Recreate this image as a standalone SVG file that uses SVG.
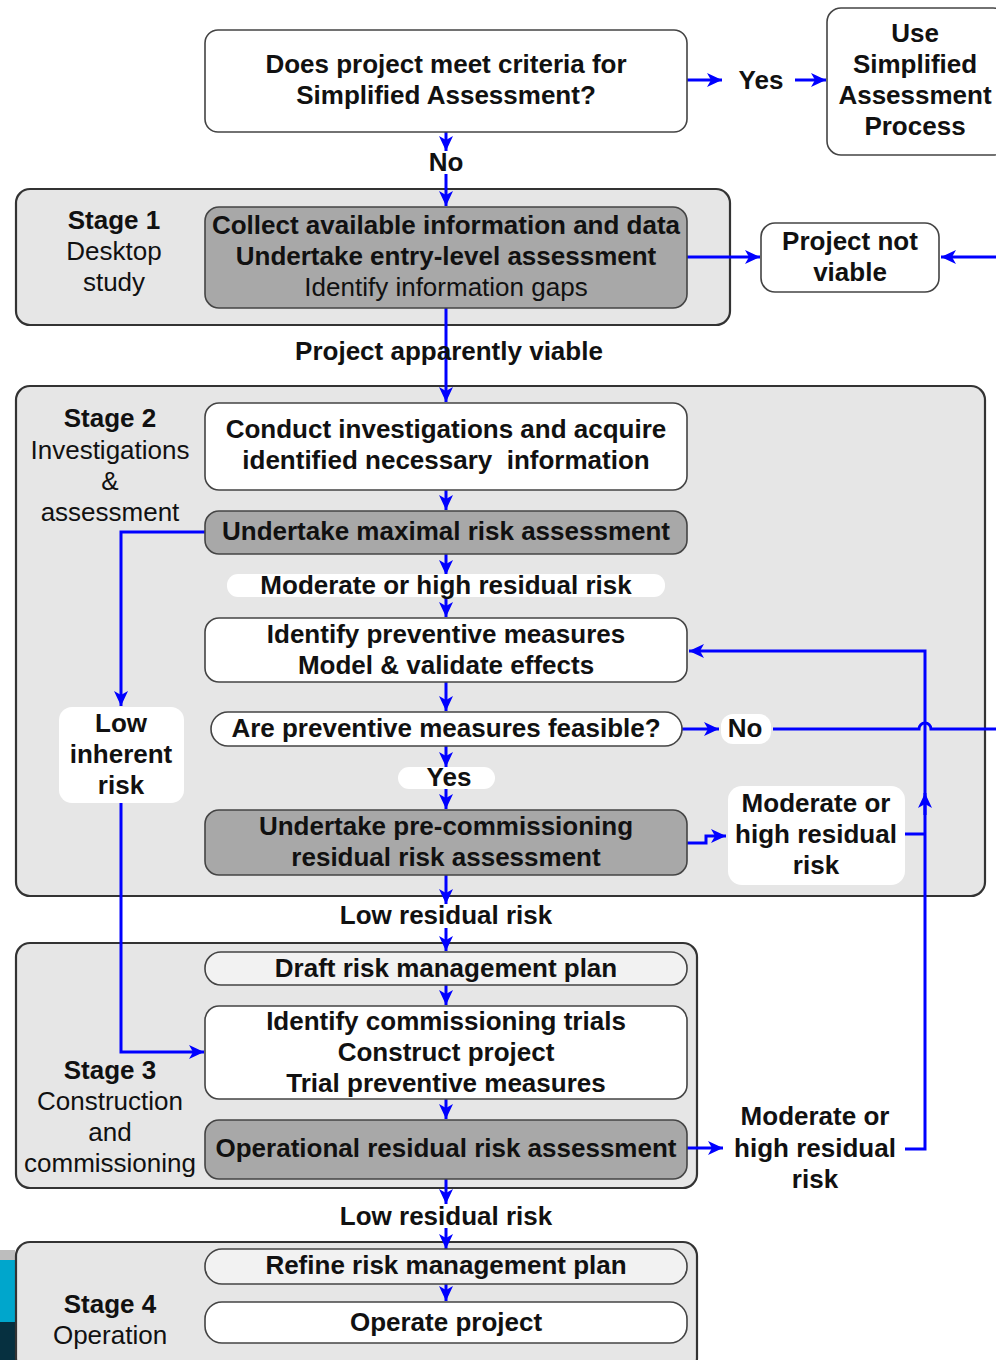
<svg xmlns="http://www.w3.org/2000/svg" width="996" height="1360" viewBox="0 0 996 1360">
<defs>
<marker id="ah" markerUnits="userSpaceOnUse" markerWidth="16" markerHeight="14" refX="15" refY="7" orient="auto">
<path d="M0,0 L15,7 L0,14 L4,7 z" fill="#0000ff"/>
</marker>
<style>
.stage{fill:#e6e6e6;stroke:#333;stroke-width:2.2}
.w{fill:#fff;stroke:#444;stroke-width:1.6}
.g{fill:#a8a8a8;stroke:#444;stroke-width:1.6}
.l{fill:#f2f2f2;stroke:#444;stroke-width:1.6}
.lab{fill:#fff;stroke:none}
text{font-family:"Liberation Sans",Arial,sans-serif;font-size:26px;fill:#111;text-anchor:middle}
.b{font-weight:bold}
.pre{white-space:pre}
.c{fill:none;stroke:#0000ff;stroke-width:3}
.ca{fill:none;stroke:#0000ff;stroke-width:3;marker-end:url(#ah)}
</style>
</defs>
<rect width="996" height="1360" fill="#fff"/>
<g id="artifact">
<rect x="0" y="1250" width="15" height="10" fill="#bdbdbd"/>
<rect x="0" y="1260" width="15" height="62" fill="#00a6cc"/>
<rect x="0" y="1322" width="15" height="38" fill="#063040"/>
</g>
<g id="stage1">
<rect class="stage" x="16" y="189" width="714" height="136" rx="14"/>
<text x="114" y="229" class="b">Stage 1</text>
<text x="114" y="260">Desktop</text>
<text x="114" y="291">study</text>
</g>
<g id="stage2">
<rect class="stage" x="16" y="386" width="969" height="510" rx="14"/>
<text x="110" y="427" class="b">Stage 2</text>
<text x="110" y="459">Investigations</text>
<text x="110" y="490">&amp;</text>
<text x="110" y="521">assessment</text>
</g>
<g id="stage3">
<rect class="stage" x="16" y="943" width="681" height="245" rx="14"/>
<text x="110" y="1079" class="b">Stage 3</text>
<text x="110" y="1110">Construction</text>
<text x="110" y="1141">and</text>
<text x="110" y="1172">commissioning</text>
</g>
<g id="stage4">
<rect class="stage" x="16" y="1242" width="681" height="130" rx="14"/>
<text x="110" y="1313" class="b">Stage 4</text>
<text x="110" y="1344">Operation</text>
</g>
<g id="connectors">
<line class="ca" x1="687" y1="80" x2="722" y2="80"/>
<line class="ca" x1="795" y1="80" x2="826" y2="80"/>
<line class="ca" x1="446" y1="132" x2="446" y2="151"/>
<line class="ca" x1="446" y1="174" x2="446" y2="206"/>
<line class="ca" x1="687" y1="257" x2="760" y2="257"/>
<line class="ca" x1="996" y1="257" x2="941" y2="257"/>
<line class="ca" x1="446" y1="308" x2="446" y2="402"/>
<line class="ca" x1="446" y1="490" x2="446" y2="510"/>
<line class="ca" x1="446" y1="554" x2="446" y2="575"/>
<line class="ca" x1="446" y1="597" x2="446" y2="617"/>
<line class="ca" x1="446" y1="682" x2="446" y2="711"/>
<line class="ca" x1="446" y1="746" x2="446" y2="767"/>
<line class="ca" x1="446" y1="789" x2="446" y2="809"/>
<path class="ca" d="M687,843 L706,843 L706,836 L726,836"/>
<line class="c" x1="905" y1="834" x2="925" y2="834"/>
<path class="ca" d="M905,1149 L925,1149 L925,651 L689,651"/>
<line class="ca" x1="925" y1="815" x2="925" y2="793"/>
<line class="ca" x1="682" y1="729" x2="719" y2="729"/>
<path class="c" d="M773,729 L919,729 A6,6 0 0 1 931,729 L996,729"/>
<path class="ca" d="M205,532 L121,532 L121,706"/>
<path class="ca" d="M121,803 L121,1052 L204,1052"/>
<line class="ca" x1="446" y1="875" x2="446" y2="904"/>
<line class="ca" x1="446" y1="928" x2="446" y2="951"/>
<line class="ca" x1="446" y1="985" x2="446" y2="1005"/>
<line class="ca" x1="446" y1="1099" x2="446" y2="1119"/>
<line class="ca" x1="687" y1="1148" x2="723" y2="1148"/>
<line class="ca" x1="446" y1="1179" x2="446" y2="1204"/>
<line class="ca" x1="446" y1="1228" x2="446" y2="1249"/>
<line class="ca" x1="446" y1="1284" x2="446" y2="1301"/>
</g>
<g id="n-criteria">
<rect class="w" x="205" y="30" width="482" height="102" rx="13"/>
<text x="446" y="73" class="b">Does project meet criteria for</text>
<text x="446" y="104" class="b">Simplified Assessment?</text>
</g>
<g id="l-yes1"><text x="761" y="89" class="b">Yes</text></g>
<g id="n-simplified">
<rect class="w" x="827" y="8" width="180" height="147" rx="14"/>
<text x="915" y="42" class="b">Use</text>
<text x="915" y="73" class="b">Simplified</text>
<text x="915" y="104" class="b">Assessment</text>
<text x="915" y="135" class="b">Process</text>
</g>
<g id="l-no1"><text x="446" y="171" class="b">No</text></g>
<g id="n-collect">
<rect class="g" x="205" y="207" width="482" height="101" rx="14"/>
<text x="446" y="234" class="b">Collect available information and data</text>
<text x="446" y="265" class="b">Undertake entry-level assessment</text>
<text x="446" y="296">Identify information gaps</text>
</g>
<g id="n-notviable">
<rect class="w" x="761" y="223" width="178" height="69" rx="14"/>
<text x="850" y="250" class="b">Project not</text>
<text x="850" y="281" class="b">viable</text>
</g>
<g id="l-viable"><text x="449" y="360" class="b">Project apparently viable</text></g>
<g id="n-conduct">
<rect class="w" x="205" y="403" width="482" height="87" rx="14"/>
<text x="446" y="438" class="b">Conduct investigations and acquire</text>
<text x="446" y="469" class="b pre">identified necessary  information</text>
</g>
<g id="n-maximal">
<rect class="g" x="205" y="511" width="482" height="43" rx="14"/>
<text x="446" y="540" class="b">Undertake maximal risk assessment</text>
</g>
<g id="l-modhigh1">
<rect class="lab" x="227" y="574" width="438" height="23" rx="11"/>
<text x="446" y="594" class="b">Moderate or high residual risk</text>
</g>
<g id="n-identify">
<rect class="w" x="205" y="618" width="482" height="64" rx="14"/>
<text x="446" y="643" class="b">Identify preventive measures</text>
<text x="446" y="674" class="b">Model &amp; validate effects</text>
</g>
<g id="n-feasible">
<rect class="w" x="211" y="712" width="471" height="34" rx="17"/>
<text x="446" y="737" class="b">Are preventive measures feasible?</text>
</g>
<g id="l-no2">
<rect class="lab" x="721" y="714" width="50" height="30" rx="12"/>
<text x="745" y="737" class="b">No</text>
</g>
<g id="l-yes2">
<rect class="lab" x="398" y="767" width="97" height="22" rx="11"/>
<text x="449" y="786" class="b">Yes</text>
</g>
<g id="n-precomm">
<rect class="g" x="205" y="810" width="482" height="65" rx="14"/>
<text x="446" y="835" class="b">Undertake pre-commissioning</text>
<text x="446" y="866" class="b">residual risk assessment</text>
</g>
<g id="l-modhigh2">
<rect class="lab" x="728" y="786" width="177" height="99" rx="14"/>
<text x="816" y="812" class="b">Moderate or</text>
<text x="816" y="843" class="b">high residual</text>
<text x="816" y="874" class="b">risk</text>
</g>
<g id="l-lowinherent">
<rect class="lab" x="59" y="707" width="125" height="96" rx="13"/>
<text x="121" y="732" class="b">Low</text>
<text x="121" y="763" class="b">inherent</text>
<text x="121" y="794" class="b">risk</text>
</g>
<g id="l-low1"><text x="446" y="924" class="b">Low residual risk</text></g>
<g id="n-draft">
<rect class="l" x="205" y="952" width="482" height="33" rx="16"/>
<text x="446" y="977" class="b">Draft risk management plan</text>
</g>
<g id="n-construct">
<rect class="w" x="205" y="1006" width="482" height="93" rx="14"/>
<text x="446" y="1030" class="b">Identify commissioning trials</text>
<text x="446" y="1061" class="b">Construct project</text>
<text x="446" y="1092" class="b">Trial preventive measures</text>
</g>
<g id="n-operational">
<rect class="g" x="205" y="1120" width="482" height="59" rx="14"/>
<text x="446" y="1157" class="b">Operational residual risk assessment</text>
</g>
<g id="l-modhigh3">
<text x="815" y="1125" class="b">Moderate or</text>
<text x="815" y="1157" class="b">high residual</text>
<text x="815" y="1188" class="b">risk</text>
</g>
<g id="l-low2"><text x="446" y="1225" class="b">Low residual risk</text></g>
<g id="n-refine">
<rect class="l" x="205" y="1249" width="482" height="35" rx="17"/>
<text x="446" y="1274" class="b">Refine risk management plan</text>
</g>
<g id="n-operate">
<rect class="w" x="205" y="1302" width="482" height="41" rx="17"/>
<text x="446" y="1331" class="b">Operate project</text>
</g>
</svg>
